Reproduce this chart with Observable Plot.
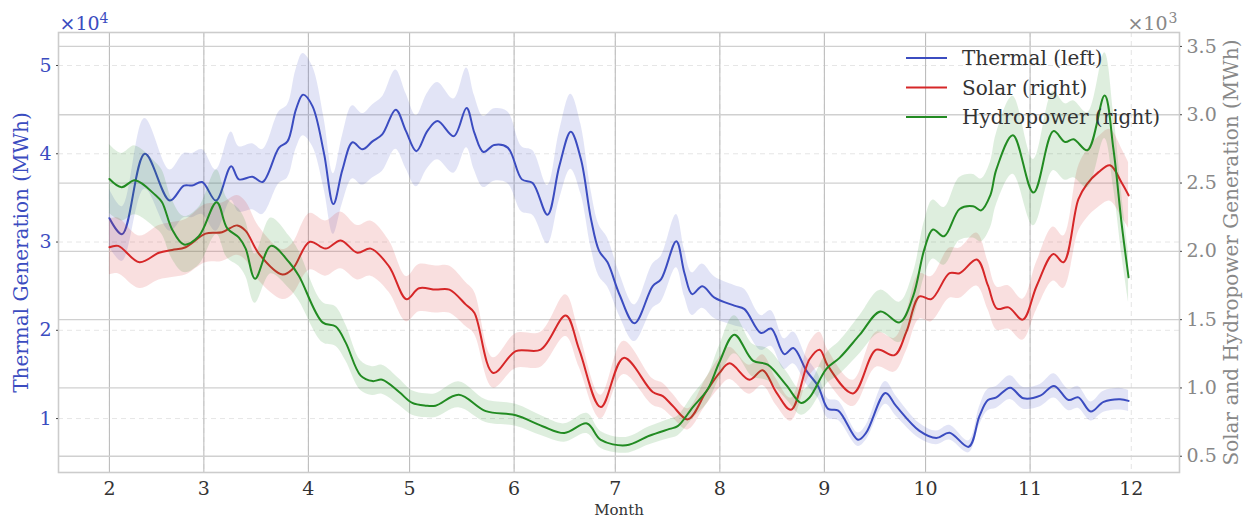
<!DOCTYPE html>
<html>
<head>
<meta charset="utf-8">
<script src="https://cdn.jsdelivr.net/npm/d3@7"></script>
<script src="https://cdn.jsdelivr.net/npm/@observablehq/plot@0.6"></script>
<style>
  html, body { margin: 0; padding: 0; background: #fff; }
  #wrap { position: relative; width: 1249px; height: 519px; font-family: "DejaVu Serif", serif; }
  #legend { position: absolute; left: 898px; top: 40px; }
</style>
</head>
<body>
<div id="wrap"></div>
<script>
// ---- data (days since 1 Feb, values in MWh) ----
const monthTicks = [2, 3, 4, 5, 6, 7, 8, 9, 10, 11, 12];
const leftTicks = [10000, 20000, 30000, 40000, 50000];
const rightTicks = [500, 1000, 1500, 2000, 2500, 3000, 3500];
const seriesNames = ["Thermal (left)", "Solar (right)", "Hydropower (right)"];
const seriesColors = ["#3b4cc0", "#d62728", "#228b22"];
const bandFraction = 0.10; // shaded band: ±10 %

const thermalDay = [0,3.8,10.5,17.9,22.1,24.5,27.5,31.6,36.1,38.4,42.4,45.4,50.3,52.8,55.3,57.4,60.2,63.6,66.4,69.1,72.1,75,78,80.9,84.9,87.9,91,94.3,97.3,102.1,105.9,108.2,110.9,114.1,118.1,122.3,125.5,129.9,133.4,136.8,139.8,142.8,145.2,147.7,151.3,155.7,161.1,163.6,168.1,170.5,172.8,175.8,179.4,185.3,188.3,193.2,196.2,200.1,202.8,206.7,210.1,213.1,216.1,222,224.4,230.1,233.3,240.2,245.2,249.1,254.8,258,260.5,263,267.1,271,276,280.1,284.4,287.3,291,294.8,299.7,302.2];
const thermalMWh = [32700,30900,40000,34700,36400,36400,36800,34700,38600,37100,37400,36800,40700,41400,45000,46700,45400,40100,34300,38200,41300,40500,41400,42200,45000,42600,40300,42600,43700,42000,45200,42400,40200,41000,40700,37100,36700,33100,38600,42500,39400,32600,29000,27700,24000,20800,25000,25800,30100,26500,24100,25000,23700,22800,22400,19700,20200,17300,18000,15400,13700,11100,10900,7600,8400,12900,11400,8600,7800,8400,6800,10300,12100,12400,13500,12300,12600,13700,12100,12400,10800,11900,12200,12000];

const solarDay = [0,2.6,8.9,14.7,18.6,22.6,28.5,33.4,37.9,40.4,44.4,51.3,54.3,59.4,64.1,68.6,73.5,77.5,82.9,88.1,91.8,96.7,100.8,105.7,108.2,113.8,120.5,127.9,135.3,139.3,145.7,152.5,161.1,164.1,167,171.5,176.9,180.9,183.9,189.8,193.7,197.7,202.1,207.6,210.6,213.1,220.5,227.4,232.8,236.3,240.2,243.7,249.1,252.1,257.2,260.5,263.2,266.6,270.8,275,279.9,282.9,287.3,289.8,293.3,296.7,300.2,302.2];
const solarMWh = [2030,2040,1920,1990,2010,2030,2130,2140,2190,2150,1980,1830,1870,2070,2020,2080,1990,2020,1890,1650,1730,1720,1720,1610,1550,1110,1270,1280,1530,1280,860,1220,970,940,870,770,970,1110,1180,1060,1130,970,840,1210,1280,1160,960,1280,1240,1410,1670,1650,1840,1840,1940,1750,1580,1590,1500,1750,1980,1920,2380,2490,2580,2630,2500,2410];

const hydroDay = [0,3.6,7.6,13.7,15.6,18.6,22.1,26.5,31.8,34.9,38.4,40.4,43.2,47.9,53.3,56.2,63.2,67.1,70.1,74.5,78,80.9,85.9,89.8,93.8,96.7,103.6,111.6,120.5,128.4,134.9,141.6,145.7,153.2,160.1,166.1,168.5,173,177.4,180.9,185.3,190.8,195.2,200.7,205.1,207.6,212.6,216.5,222.5,228.6,234.3,238.3,241.7,244.2,247.5,252.1,256.1,258.5,261.2,263,267.9,274,279.9,283.4,285.9,290,295.1,297.7,300.2,302.2];
const hydroMWh = [2530,2470,2520,2410,2360,2160,2050,2110,2360,2170,2100,2020,1800,2040,1920,1820,1480,1450,1330,1090,1050,1060,970,890,870,870,950,830,800,720,670,740,620,580,650,700,720,860,990,1190,1390,1200,1170,1020,890,930,1140,1220,1390,1560,1480,1670,2020,2160,2110,2310,2330,2300,2410,2600,2850,2430,2880,2800,2820,2740,3140,2750,2190,1810];

// axis limits
const leftDomain = [3890, 53740];
const rightDomain = [381, 3602];
const xPadDays = 15.1;

// ---- helpers ----
const DAY = 864e5;
const start = Date.UTC(2023, 1, 1);
const toDate = d => new Date(start + d * DAY);
const kLR = (leftDomain[1] - leftDomain[0]) / (rightDomain[1] - rightDomain[0]);
const toLeft = v => leftDomain[0] + (v - rightDomain[0]) * kLR;
const fromLeft = v => rightDomain[0] + (v - leftDomain[0]) / kLR;

function rows(days, vals, map) {
  return days.map((d, i) => ({
    date: toDate(d),
    y: map(vals[i]),
    lo: map(vals[i] * (1 - bandFraction)),
    hi: map(vals[i] * (1 + bandFraction))
  }));
}
const idt = v => v;
const thermal = rows(thermalDay, thermalMWh, idt);
const solar = rows(solarDay, solarMWh, toLeft);
const hydro = rows(hydroDay, hydroMWh, toLeft);

const lastDay = Math.max(thermalDay[thermalDay.length - 1], solarDay[solarDay.length - 1]);
const xDomain = [toDate(-xPadDays), toDate(lastDay + xPadDays)];
const monthDates = monthTicks.map(m => new Date(Date.UTC(2023, m - 1, 1)));

const blue = "#3b4cc0", gray = "#888888";
const curve = "catmull-rom";

const chart = Plot.plot({
  width: 1249,
  height: 519,
  marginLeft: 58,
  marginRight: 70,
  marginTop: 32,
  marginBottom: 47,
  style: { fontFamily: '"DejaVu Serif", serif', fontSize: "19px", background: "#fff", overflow: "visible" },
  x: { type: "utc", domain: xDomain },
  y: { domain: leftDomain },
  marks: [
    Plot.ruleX(monthDates, { stroke: "#e4e4e4", strokeDasharray: "5,4" }),
    Plot.ruleY(leftTicks, { stroke: "#e6e6e6", strokeDasharray: "5,4" }),
    Plot.ruleX(monthDates.slice(0, -1), { stroke: "#bdbdbd", strokeWidth: 1.1 }),
    Plot.ruleY(rightTicks.map(toLeft), { stroke: "#d0d0d0", strokeWidth: 1.3 }),

    Plot.areaY(thermal, { x: "date", y1: "lo", y2: "hi", fill: seriesColors[0], fillOpacity: 0.15, curve }),
    Plot.lineY(thermal, { x: "date", y: "y", stroke: seriesColors[0], strokeWidth: 2, curve }),
    Plot.areaY(solar, { x: "date", y1: "lo", y2: "hi", fill: seriesColors[1], fillOpacity: 0.15, curve }),
    Plot.lineY(solar, { x: "date", y: "y", stroke: seriesColors[1], strokeWidth: 2, curve }),
    Plot.areaY(hydro, { x: "date", y1: "lo", y2: "hi", fill: seriesColors[2], fillOpacity: 0.15, curve }),
    Plot.lineY(hydro, { x: "date", y: "y", stroke: seriesColors[2], strokeWidth: 2, curve }),

    Plot.frame({ stroke: "#cccccc", strokeWidth: 1.6 }),

    Plot.axisX({ ticks: monthDates, tickFormat: d => String(d.getUTCMonth() + 1), tickSize: 0, tickPadding: 9, fill: "#333", fontSize: 19, label: null }),
    Plot.axisY({ anchor: "left", ticks: leftTicks, tickFormat: d => String(d / 1e4), tickSize: 2, tickPadding: 5, stroke: "#444", fill: blue, fontSize: 19, label: null }),
    Plot.axisY({ anchor: "right", ticks: rightTicks.map(toLeft), tickFormat: d => (Math.round(fromLeft(d) / 50) * 50 / 1000).toFixed(1), tickSize: 2, tickPadding: 5, stroke: "#444", fill: gray, fontSize: 19, label: null }),

    Plot.text(["Thermal Generation (MWh)"], { text: d => d, frameAnchor: "left", textAnchor: "middle", lineAnchor: "middle", rotate: -90, dx: -37, fill: blue, fontSize: 20 }),
    Plot.text(["Solar and Hydropower Generation (MWh)"], { text: d => d, frameAnchor: "right", textAnchor: "middle", lineAnchor: "middle", rotate: -90, dx: 52, fill: gray, fontSize: 20 }),
    Plot.text(["Month"], { text: d => d, frameAnchor: "bottom", lineAnchor: "middle", dy: 38, fill: "#333", fontSize: 15 }),
    Plot.text(["×10"], { text: d => d, frameAnchor: "top-left", textAnchor: "start", lineAnchor: "bottom", dx: 1, dy: -3, fill: blue, fontSize: 19 }),
    Plot.text(["4"], { text: d => d, frameAnchor: "top-left", textAnchor: "start", lineAnchor: "bottom", dx: 41, dy: -10, fill: blue, fontSize: 14 }),
    Plot.text(["×10"], { text: d => d, frameAnchor: "top-right", textAnchor: "end", lineAnchor: "bottom", dx: -12, dy: -3, fill: gray, fontSize: 19 }),
    Plot.text(["3"], { text: d => d, frameAnchor: "top-right", textAnchor: "end", lineAnchor: "bottom", dx: -2, dy: -10, fill: gray, fontSize: 14 })
  ]
});

const wrap = document.getElementById("wrap");
wrap.appendChild(chart);

// legend
const ns = "http://www.w3.org/2000/svg";
const leg = document.createElementNS(ns, "svg");
leg.setAttribute("id", "legend");
leg.setAttribute("width", 300);
leg.setAttribute("height", 100);
seriesNames.forEach((name, i) => {
  const yy = 18 + i * 29.5;
  const ln = document.createElementNS(ns, "line");
  ln.setAttribute("x1", 8); ln.setAttribute("x2", 49);
  ln.setAttribute("y1", yy); ln.setAttribute("y2", yy);
  ln.setAttribute("stroke", seriesColors[i]); ln.setAttribute("stroke-width", 2);
  leg.appendChild(ln);
  const tx = document.createElementNS(ns, "text");
  tx.setAttribute("x", 64); tx.setAttribute("y", yy);
  tx.setAttribute("dy", "0.35em");
  tx.setAttribute("fill", "#333");
  tx.setAttribute("font-size", 20);
  tx.setAttribute("font-family", '"DejaVu Serif", serif');
  tx.textContent = name;
  leg.appendChild(tx);
});
wrap.appendChild(leg);
</script>
</body>
</html>
